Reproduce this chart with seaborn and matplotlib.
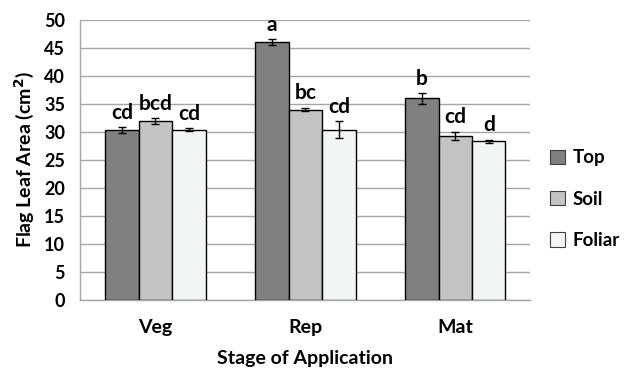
import matplotlib
matplotlib.use("Agg")
import matplotlib.pyplot as plt
import seaborn as sns
import pandas as pd
import numpy as np

# data
stages = ["Veg", "Rep", "Mat"]
treatments = ["Top", "Soil", "Foliar"]
top_vals = [30.3, 46.0, 36.0]
soil_vals = [31.9, 34.0, 29.3]
foliar_vals = [30.4, 30.4, 28.3]
top_err = [0.5, 0.55, 0.95]
soil_err = [0.55, 0.3, 0.7]
foliar_err = [0.3, 1.5, 0.3]
top_letters = ["cd", "a", "b"]
soil_letters = ["bcd", "bc", "cd"]
foliar_letters = ["cd", "cd", "d"]

colors = {"Top": "#808080", "Soil": "#c3c3c3", "Foliar": "#f3f5f4"}

rows = []
vals = [top_vals, soil_vals, foliar_vals]
errs = [top_err, soil_err, foliar_err]
lets = [top_letters, soil_letters, foliar_letters]
for t, v, e, l in zip(treatments, vals, errs, lets):
    for s, vv, ee, ll in zip(stages, v, e, l):
        rows.append({"Stage": s, "Treatment": t, "Area": vv, "Err": ee, "Letter": ll})
df = pd.DataFrame(rows)

sns.set_style("white")
plt.rcParams["font.family"] = ["Lato", "DejaVu Sans"]
plt.rcParams["font.weight"] = "bold"
plt.rcParams["text.color"] = "black"
plt.rcParams["axes.labelcolor"] = "black"
plt.rcParams["xtick.labelcolor"] = "black"
plt.rcParams["ytick.labelcolor"] = "black"

fig = plt.figure(figsize=(6.32, 3.75), dpi=100)
ax = fig.add_axes([0.127, 0.2, 0.712, 0.747])

sns.barplot(data=df, x="Stage", y="Area", hue="Treatment", order=stages,
            hue_order=treatments, palette=colors, width=0.67, errorbar=None,
            edgecolor="black", linewidth=1.0, ax=ax, zorder=3)

# error bars and letters
for cont, t in zip(ax.containers, treatments):
    sub = df[df["Treatment"] == t].set_index("Stage").loc[stages]
    for bar, (_, r) in zip(cont, sub.iterrows()):
        xc = bar.get_x() + bar.get_width() / 2
        ax.errorbar(xc, r["Area"], yerr=r["Err"], color="black", capsize=3,
                    elinewidth=1, capthick=1, zorder=4)
        ax.text(xc, r["Area"] + r["Err"] + 0.8, r["Letter"], ha="center",
                va="bottom", fontsize=15, fontweight="bold", color="black")

ax.set_ylim(0, 50)
ax.set_xlim(-0.5, 2.5)
ax.set_yticks(np.arange(0, 51, 5))
ax.yaxis.grid(True, color="#a6a6a6", linewidth=1, zorder=0)
ax.set_axisbelow(True)
for side in ["top", "right"]:
    ax.spines[side].set_visible(False)
for side in ["left", "bottom"]:
    ax.spines[side].set_color("#a6a6a6")
    ax.spines[side].set_linewidth(1)

ax.set_xticks([-0.5, 0.5, 1.5, 2.5], minor=True)
ax.tick_params(axis="x", which="minor", length=6, color="#a6a6a6", width=1)
ax.tick_params(axis="x", which="major", length=0, labelsize=14, pad=14)
ax.tick_params(axis="y", length=5, color="#a6a6a6", width=1, labelsize=13, pad=6)
for lab in ax.get_xticklabels() + ax.get_yticklabels():
    lab.set_fontweight("bold")

ax.set_xlabel("Stage of Application", fontsize=14, fontweight="bold", labelpad=10)
ax.set_ylabel("Flag Leaf Area (cm$^\\mathbf{2}$)", fontsize=14, fontweight="bold", labelpad=6)

leg = ax.legend(loc="center left", bbox_to_anchor=(1.02, 0.36), frameon=False,
                handlelength=0.8, handleheight=0.8, handletextpad=0.4,
                labelspacing=1.3, borderaxespad=0.2,
                prop={"size": 13.5, "weight": "bold"})
for h in leg.legend_handles:
    h.set_edgecolor("#404040")
    h.set_linewidth(0.8)

fig.savefig("out.png", dpi=100)
